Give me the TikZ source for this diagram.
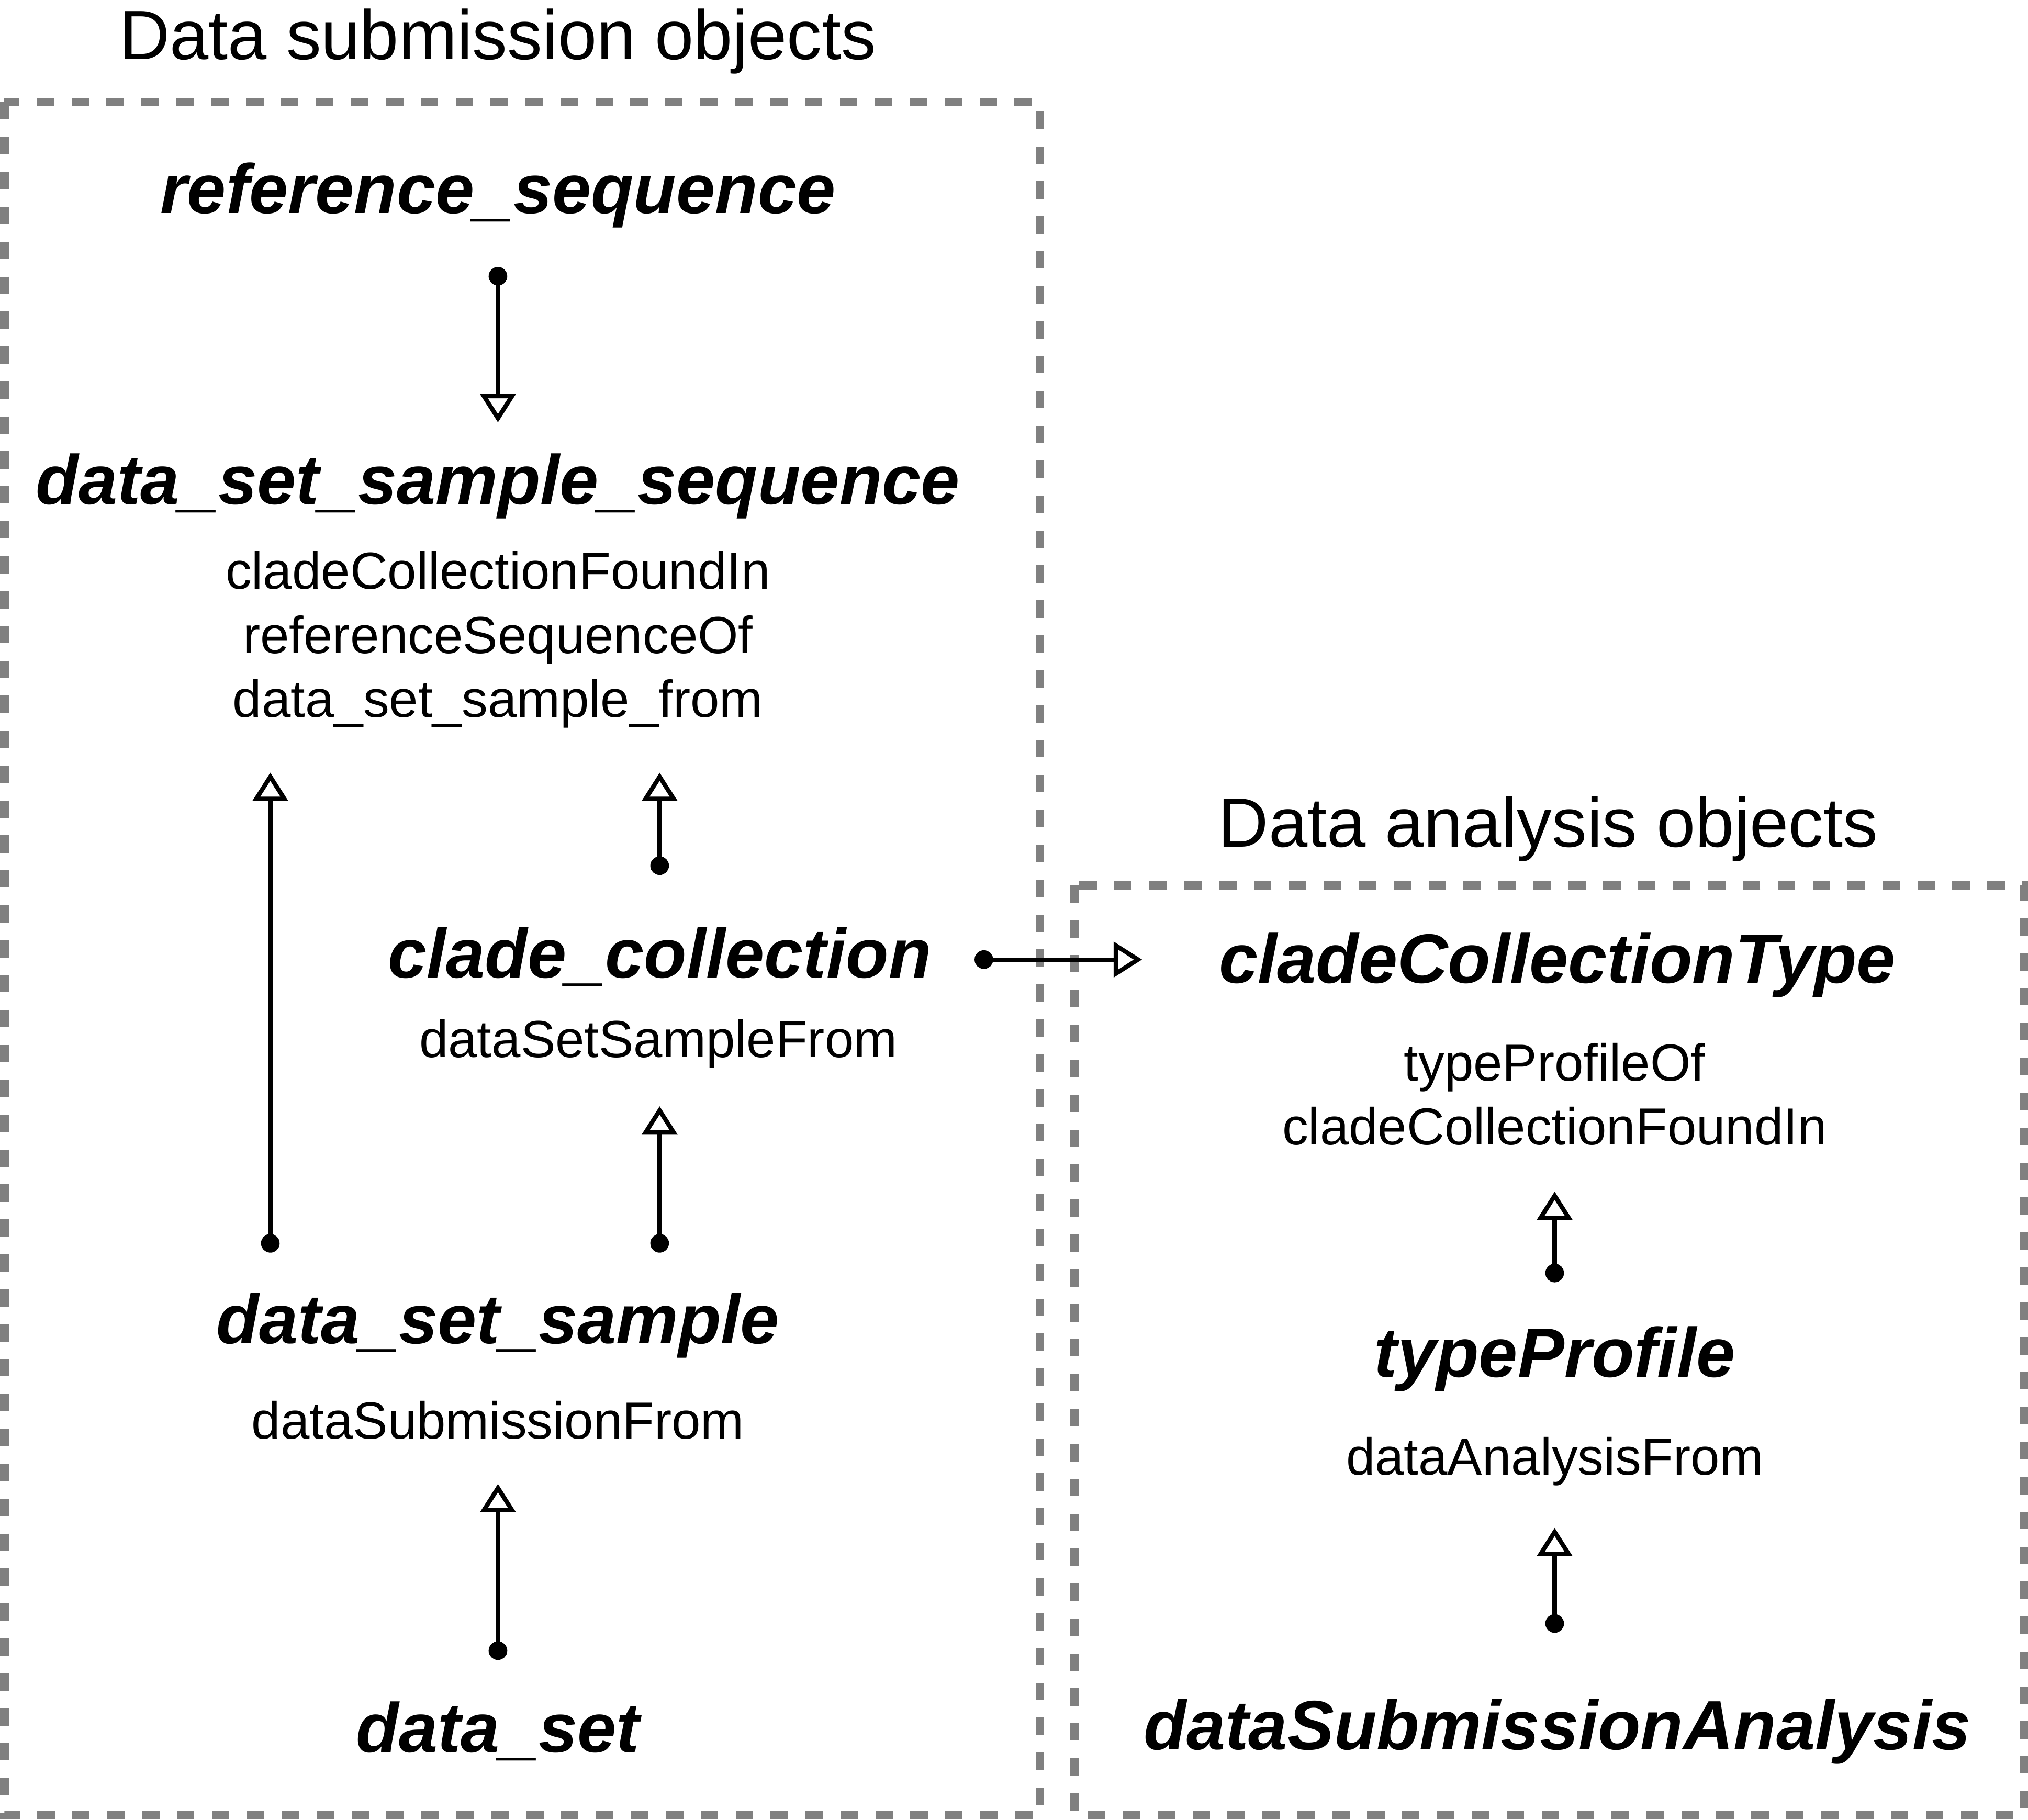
\documentclass[tikz,border=0pt]{standalone}
\usepackage{fontspec}
\setmainfont{Liberation Sans}
\usetikzlibrary{arrows.meta}

\begin{document}
\begin{tikzpicture}[x=0.5pt,y=-0.5pt,
  title/.style={anchor=base,inner sep=0pt,font=\fontsize{27}{32}\selectfont},
  model/.style={anchor=base,inner sep=0pt,text height=20pt,text depth=6pt,
    font=\fontsize{27}{32}\selectfont\bfseries\itshape},
  fields/.style={anchor=north,inner sep=0pt,align=center,
    font=\fontsize{20.15}{24.75}\selectfont},
  link/.style={line width=1.7pt,
    {Circle[length=7.2pt]}-{Triangle[open,length=11pt,width=13.5pt]}},
  group/.style={draw=black!50,line width=3.4pt,dash pattern=on 6.75pt off 6.75pt}]
  \useasboundingbox (0,0) rectangle (1568,1407);

  % groups
  \draw[group] (3.4,78.9) rectangle (804,1403.5);
  \draw[group] (831,684.5) rectangle (1565,1403.5);
  \node[title] (subm) at (385,46) {Data submission objects};
  \node[title] (anal) at (1197,655) {Data analysis objects};

  % submission objects
  \node[model] (refseq) at (385,165) {reference\_sequence};
  \node[model] (dsss) at (385,390) {data\_set\_sample\_sequence};
  \node[fields] (dsssf) at (385,426) {cladeCollectionFoundIn\\referenceSequenceOf\\data\_set\_sample\_from};
  \node[model] (cladecol) at (510,756) {clade\_collection};
  \node[fields] (cladecolf) at (509,788) {dataSetSampleFrom};
  \node[model] (dss) at (385,1039) {data\_set\_sample};
  \node[fields] (dssf) at (385,1083) {dataSubmissionFrom};
  \node[model] (dset) at (385,1355) {data\_set};

  % analysis objects
  \node[model] (cctype) at (1204,760) {cladeCollectionType};
  \node[fields] (cctypef) at (1202,806) {typeProfileOf\\cladeCollectionFoundIn};
  \node[model] (tprof) at (1202,1065) {typeProfile};
  \node[fields] (tproff) at (1202,1111) {dataAnalysisFrom};
  \node[model] (dsa) at (1204,1353) {dataSubmissionAnalysis};

  % links
  \draw[link,shorten <=14.5pt,shorten >=11.5pt] (refseq.south) -- (dsss.north);
  \draw[link,shorten <=15pt,shorten >=97.5pt] ([xshift=-88pt]dss.north) -- ([xshift=-88pt]dss.north |- dsss.south);
  \draw[link,shorten <=19.5pt,shorten >=97.5pt] (cladecol.north) -- (cladecol.north |- dsss.south);
  \draw[link,shorten <=15pt,shorten >=43.5pt] (cladecol.south |- dss.north) -- (cladecol.south);
  \draw[link,shorten <=15.5pt,shorten >=48pt] (dset.north) -- (dss.south);
  \draw[link,shorten <=16.5pt,shorten >=29.5pt] (cladecol.east) -- (cladecol.east -| cctype.west);
  \draw[link,shorten <=16.5pt,shorten >=74.5pt] (tprof.north) -- (tprof.north |- cctype.south);
  \draw[link,shorten <=25pt,shorten >=52pt] (tprof.north |- dsa.north) -- (tprof.south);
\end{tikzpicture}
\end{document}
